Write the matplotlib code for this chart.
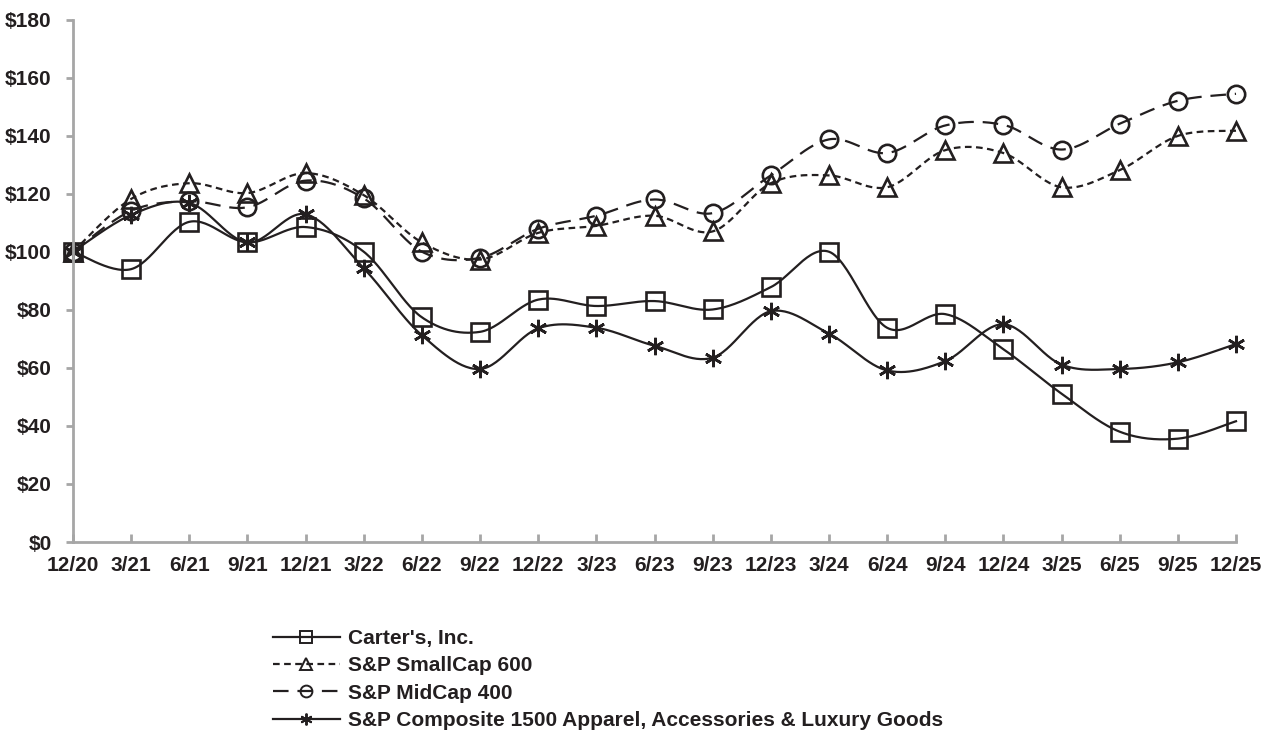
import numpy as np
import matplotlib
matplotlib.use("Agg")
import matplotlib.pyplot as plt
from matplotlib.lines import Line2D

plt.rcParams['font.family'] = ['Liberation Sans', 'DejaVu Sans']
plt.rcParams['font.weight'] = 'bold'

quarters = ['12/20', '3/21', '6/21', '9/21', '12/21', '3/22', '6/22', '9/22', '12/22',
            '3/23', '6/23', '9/23', '12/23', '3/24', '6/24', '9/24', '12/24', '3/25',
            '6/25', '9/25', '12/25']

carters = [100, 94, 110.3, 103.2, 108.5, 100, 77.4, 72.4, 83.5, 81.3, 83.0, 80.1,
           87.8, 100, 73.8, 78.5, 66.4, 51.1, 38.0, 35.6, 41.6]
smallcap = [100, 118.2, 123.6, 120.2, 127.1, 119.5, 103.2, 97.3, 106.5, 108.9, 112.4,
            107.0, 123.6, 126.3, 122.2, 135.0, 134.0, 122.2, 128.1, 139.9, 141.7]
midcap = [100, 114.1, 117.4, 115.3, 124.5, 118.4, 100, 97.9, 107.9, 112.4, 118.0,
          113.3, 126.3, 138.7, 134.0, 143.5, 143.7, 135.2, 144.1, 152.0, 154.4]
composite = [100, 112.7, 116.8, 103.2, 112.9, 94.3, 71.2, 59.6, 73.6, 73.8, 67.6,
             63.5, 79.5, 71.8, 59.1, 62.3, 75.0, 61.1, 59.6, 61.9, 68.2]

names = ["Carter's, Inc.", "S&P SmallCap 600", "S&P MidCap 400",
         "S&P Composite 1500 Apparel, Accessories & Luxury Goods"]

ink = '#231f20'
axis_grey = '#a6a6a6'


def smooth(x, y, n=30):
    # excel style smoothed line: cubic bezier with control points from neighbours
    x = np.asarray(x, float)
    y = np.asarray(y, float)
    px = np.concatenate([[x[0]], x, [x[-1]]])
    py = np.concatenate([[y[0]], y, [y[-1]]])
    xs, ys = [], []
    t = np.linspace(0, 1, n)
    for i in range(len(x) - 1):
        p0 = np.array([px[i + 1], py[i + 1]])
        p3 = np.array([px[i + 2], py[i + 2]])
        c1 = p0 + (p3 - np.array([px[i], py[i]])) / 6.0
        c2 = p3 - (np.array([px[i + 3], py[i + 3]]) - p0) / 6.0
        b = ((1 - t) ** 3)[:, None] * p0 + (3 * (1 - t) ** 2 * t)[:, None] * c1 \
            + (3 * (1 - t) * t ** 2)[:, None] * c2 + (t ** 3)[:, None] * p3
        xs.append(b[:, 0])
        ys.append(b[:, 1])
    return np.concatenate(xs), np.concatenate(ys)


fig = plt.figure(figsize=(12.72, 7.46), dpi=100)
ax = fig.add_axes([73 / 1272, 1 - 542 / 746, (1236 - 73) / 1272, (542 - 19.5) / 746])

xpos = np.arange(len(quarters))
series = [
    (carters, 's', (None, None), 'solid'),
    (smallcap, '^', (3, 2), 'dashed'),
    (midcap, 'o', (7, 4), 'dashed'),
    (composite, (6, 2, 0), (None, None), 'solid'),
]

handles = []
for (vals, mk, dash, ls), name in zip(series, names):
    sx, sy = smooth(xpos, vals)
    line, = ax.plot(sx, sy, color=ink, lw=1.6, linestyle=ls, clip_on=False)
    if dash[0] is not None:
        line.set_dashes(dash)
    ax.plot(xpos, vals, linestyle='none', marker=mk, markersize=12.5,
            markerfacecolor='none', markeredgecolor=ink, markeredgewidth=1.9,
            clip_on=False)
    h = Line2D([], [], color=ink, lw=1.6, linestyle=ls, marker=mk, markersize=8.5,
               markerfacecolor='none', markeredgecolor=ink, markeredgewidth=1.4)
    if dash[0] is not None:
        h.set_dashes(dash)
    handles.append(h)

ax.set_xlim(0, len(quarters) - 1)
ax.set_ylim(0, 180)
ax.set_xticks(xpos)
ax.set_xticklabels(quarters)
ax.set_yticks(np.arange(0, 181, 20))
ax.set_yticklabels(['$%d' % v for v in range(0, 181, 20)])

for side in ['top', 'right']:
    ax.spines[side].set_visible(False)
for side in ['left', 'bottom']:
    ax.spines[side].set_color(axis_grey)
    ax.spines[side].set_linewidth(2)

ax.tick_params(axis='x', direction='in', length=6, width=2, color=axis_grey,
               pad=10, labelsize=15, labelcolor=ink)
ax.tick_params(axis='y', direction='out', length=5, width=2, color=axis_grey,
               pad=10.5, labelsize=15, labelcolor=ink)
for lab in ax.get_xticklabels() + ax.get_yticklabels():
    lab.set_fontweight('bold')

fig.legend(handles, names, loc='upper left', bbox_to_anchor=(273 / 1272, 1 - 629 / 746),
           frameon=False, handlelength=3.2, handletextpad=0.38,
           labelspacing=0.4, borderpad=0, borderaxespad=0,
           prop={'weight': 'bold', 'size': 15})
leg = fig.legends[0]
for t in leg.get_texts():
    t.set_color(ink)

fig.savefig('out.png', dpi=100)
